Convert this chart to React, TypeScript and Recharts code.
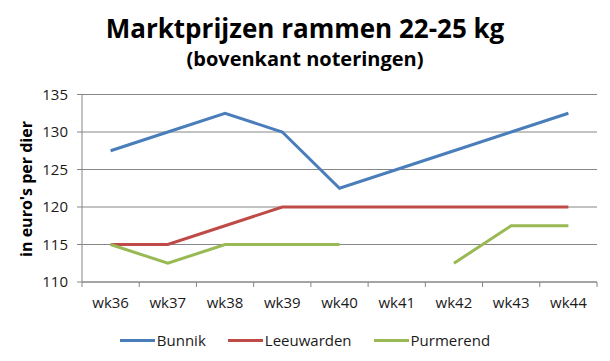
import { LineChart, Line, XAxis, YAxis, CartesianGrid } from "recharts";

const weeks = ["wk36", "wk37", "wk38", "wk39", "wk40", "wk41", "wk42", "wk43", "wk44"];
const bunnik = [127.5, 130, 132.5, 130, 122.5, 125, 127.5, 130, 132.5];
const leeuwarden = [115, 115, 117.5, 120, 120, 120, 120, 120, 120];
const purmerend: (number | null)[] = [115, 112.5, 115, 115, 115, null, 112.5, 117.5, 117.5];
const yTicks = [110, 115, 120, 125, 130, 135];

const series = [
  { key: "bunnik", name: "Bunnik", color: "#4a7ebb" },
  { key: "leeuwarden", name: "Leeuwarden", color: "#be4b48" },
  { key: "purmerend", name: "Purmerend", color: "#98b954" },
];

const data = weeks.map((week, i) => ({
  week,
  bunnik: bunnik[i],
  leeuwarden: leeuwarden[i],
  purmerend: purmerend[i],
}));

const W = 610;
const H = 361;
const Y_AXIS_W = 82;
const RIGHT = 13;
const HALF_BAND = (W - Y_AXIS_W - RIGHT) / weeks.length / 2;
const FONT = "'Open Sans', sans-serif";
const GRID = "#868686";

// category label plus tick marks sitting between the categories (Excel style)
function WeekTick(props: any) {
  const { x, y, payload, index } = props;
  const last = index === weeks.length - 1;
  return (
    <g>
      <line x1={x - HALF_BAND} y1={y} x2={x - HALF_BAND} y2={y + 5} stroke={GRID} />
      {last && <line x1={x + HALF_BAND} y1={y} x2={x + HALF_BAND} y2={y + 5} stroke={GRID} />}
      <text x={x} y={y + 26} textAnchor="middle" fontSize={15} fontFamily={FONT} fill="#1a1a1a">
        {payload.value}
      </text>
    </g>
  );
}

export default function App() {
  return (
    <div style={{ position: "absolute", left: 0, top: 0, width: W, height: H, background: "#fff" }}>
      <LineChart
        width={W}
        height={H}
        data={data}
        margin={{ top: 94.5, right: RIGHT, bottom: 49, left: 0 }}
      >
        <CartesianGrid vertical={false} stroke={GRID} />
        <XAxis
          dataKey="week"
          padding={{ left: HALF_BAND, right: HALF_BAND }}
          tickLine={false}
          tickSize={0}
          tickMargin={0}
          height={30}
          axisLine={{ stroke: GRID }}
          tick={<WeekTick />}
          interval={0}
        />
        <YAxis
          width={Y_AXIS_W}
          domain={[110, 135]}
          ticks={yTicks}
          tickSize={5}
          tickMargin={9}
          axisLine={{ stroke: GRID }}
          tickLine={{ stroke: GRID }}
          tick={{ fontSize: 15, fontFamily: FONT, fill: "#1a1a1a" }}
        />
        {series.map((s) => (
          <Line
            key={s.key}
            type="linear"
            dataKey={s.key}
            name={s.name}
            stroke={s.color}
            strokeWidth={3}
            dot={false}
            activeDot={false}
            connectNulls={false}
            isAnimationActive={false}
          />
        ))}
      </LineChart>

      <svg
        width={W}
        height={H}
        style={{ position: "absolute", left: 0, top: 0, pointerEvents: "none" }}
      >
        <text x={305} y={38} textAnchor="middle" fontSize={26} fontWeight="bold" fontFamily={FONT} fill="#000">
          Marktprijzen rammen 22-25 kg
        </text>
        <text x={305} y={66} textAnchor="middle" fontSize={20} fontWeight="bold" fontFamily={FONT} fill="#000">
          (bovenkant noteringen)
        </text>
        <g transform="translate(26,189) rotate(-90)">
          <text x={0} y={0} dy="0.35em" textAnchor="middle" fontSize={16} fontWeight="bold" fontFamily={FONT} fill="#000">
            in euro's per dier
          </text>
        </g>
      </svg>

      <div
        style={{
          position: "absolute",
          left: 0,
          top: 330,
          width: W,
          height: 20,
          display: "flex",
          justifyContent: "center",
          alignItems: "center",
          gap: 22,
          fontFamily: FONT,
          fontSize: 15,
          color: "#1a1a1a",
        }}
      >
        {series.map((s) => (
          <div key={s.key} style={{ display: "flex", alignItems: "center" }}>
            <span style={{ display: "inline-block", width: 35, height: 3, background: s.color, marginRight: 2 }} />
            <span>{s.name}</span>
          </div>
        ))}
      </div>
    </div>
  );
}
